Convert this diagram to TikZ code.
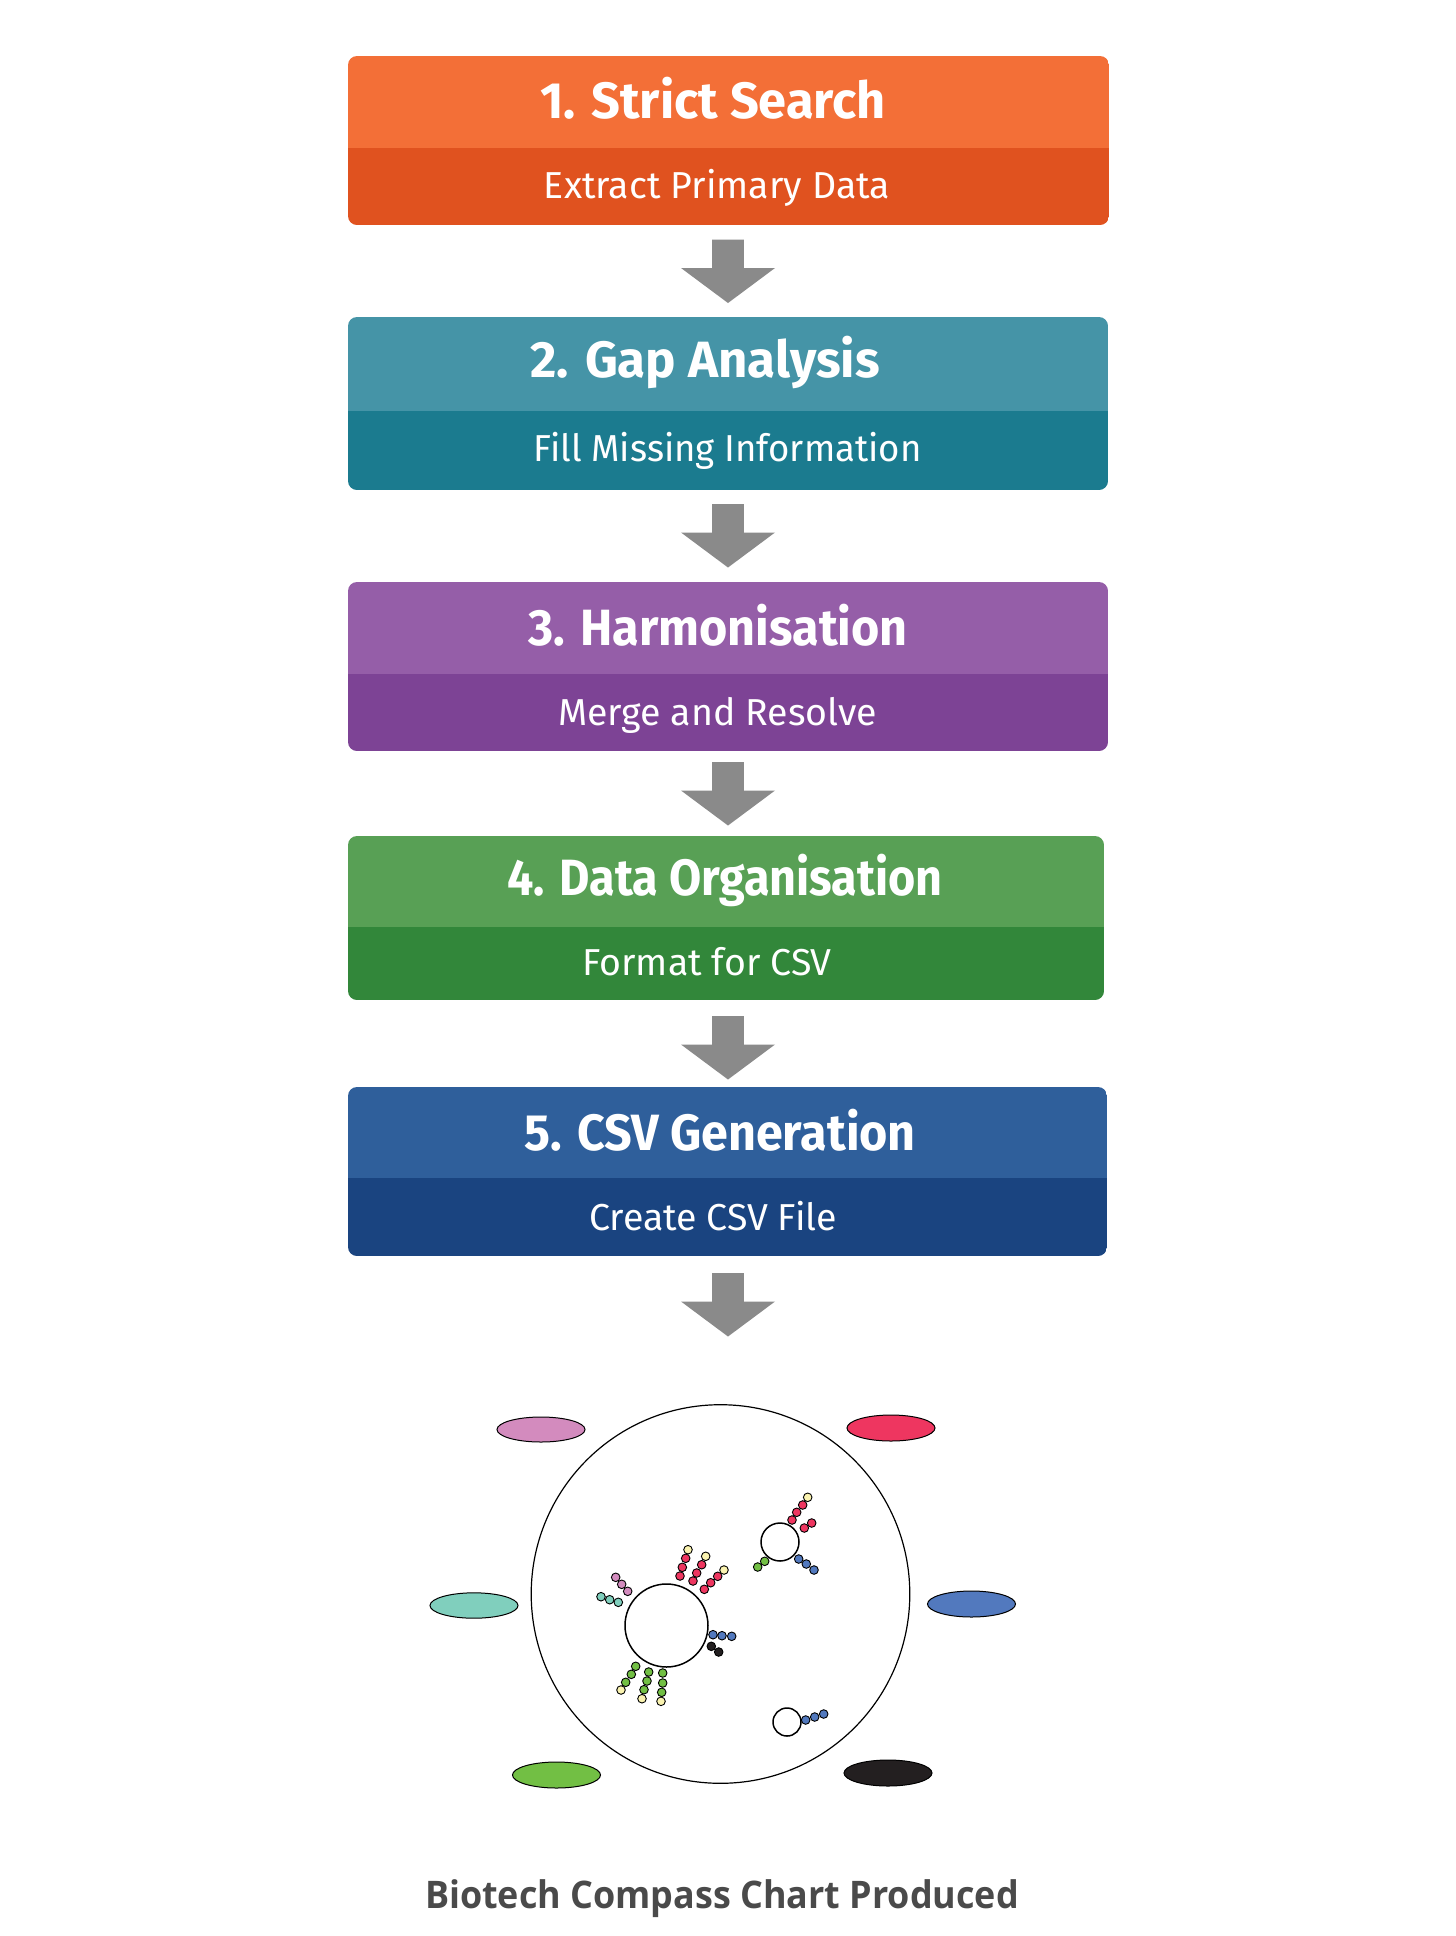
\documentclass[tikz,border=0pt]{standalone}
\usepackage{fontspec}
\setmainfont{Fira Sans}
\newfontfamily\capfont{Open Sans}
\usetikzlibrary{fit}
\definecolor{oTop}{HTML}{F36F37}\definecolor{oBot}{HTML}{E0521F}
\definecolor{tTop}{HTML}{4594A7}\definecolor{tBot}{HTML}{1B7B8F}
\definecolor{pTop}{HTML}{955EA8}\definecolor{pBot}{HTML}{7D4395}
\definecolor{gTop}{HTML}{58A055}\definecolor{gBot}{HTML}{32873A}
\definecolor{bTop}{HTML}{2F5F9B}\definecolor{bBot}{HTML}{1A4480}
\definecolor{arrowgray}{HTML}{8A8A8A}
\definecolor{capgray}{HTML}{4A4A4A}
\definecolor{cpink}{HTML}{D38BBE}
\definecolor{cred}{HTML}{EE3660}
\definecolor{cteal}{HTML}{80CFBD}
\definecolor{cblue}{HTML}{5279BE}
\definecolor{cgreen}{HTML}{72BF44}
\definecolor{cblack}{HTML}{231F20}
\definecolor{cyellow}{HTML}{FAF3B0}
\tikzset{
  titletext/.style={text=white, inner sep=0, anchor=base, font=\bfseries\fontsize{51}{54}\selectfont},
  subtext/.style={text=white, inner sep=0, anchor=base, font=\fontsize{37.5}{41}\selectfont},
  ell/.style={draw=black, line width=1},
  dotline/.style={draw=black, line width=0.9},
}
% name, x1, y1, x2, ydiv, y2, topcolour, bottomcolour
\newcommand\panelbox[8]{%
  \begin{scope}
    \clip[rounded corners=9] (#2,#3) rectangle (#4,#6);
    \fill[#7] (#2,#3) rectangle (#4,#5);
    \fill[#8] (#2,#5) rectangle (#4,#6);
  \end{scope}
  \node[fit={(#2,#3) (#4,#6)}, inner sep=0, name=#1] {};
}
% x centre, y top
\newcommand\blockarrow[2]{%
  \fill[arrowgray] (#1-15.8,#2) -- (#1+15.8,#2) -- (#1+15.8,#2+28.5) -- (#1+47,#2+28.5)
    -- (#1,#2+63.5) -- (#1-47,#2+28.5) -- (#1-15.8,#2+28.5) -- cycle;
}
\newcommand\dotc[3]{\filldraw[fill=#1, dotline] (#2,#3) circle (4.3);}
\newcommand\sq[2]{\scalebox{#1}[1]{#2}}
\begin{document}
\begin{tikzpicture}[x=1pt,y=-1pt]
\useasboundingbox (0,0) rectangle (1456,1936);
\fill[white] (0,0) rectangle (1456,1936);

\panelbox{b1}{348}{56}{1109}{148}{225}{oTop}{oBot}
\node[titletext] (t1) at (713,118) {\sq{0.99}{1. Strict Search}};
\node[subtext] (s1) at (717,198) {Extract Primary Data};

\panelbox{b2}{348}{317}{1108}{411}{490}{tTop}{tBot}
\node[titletext] (t2) at (705,377) {2. Gap Analysis};
\node[subtext] (s2) at (727.5,461.5) {\sq{0.975}{Fill Missing Information}};

\panelbox{b3}{348}{582}{1108}{674}{751}{pTop}{pBot}
\node[titletext] (t3) at (718,645) {\sq{0.95}{3. Harmonisation}};
\node[subtext] (s3) at (717.5,725) {Merge and Resolve};

\panelbox{b4}{348}{836}{1104}{927}{1000}{gTop}{gBot}
\node[titletext] (t4) at (725,895) {\sq{0.915}{4. Data Organisation}};
\node[subtext] (s4) at (707,975) {Format for CSV};

\panelbox{b5}{348}{1087}{1107}{1178}{1256}{bTop}{bBot}
\node[titletext] (t5) at (720,1150.5) {\sq{0.95}{5. CSV Generation}};
\node[subtext] (s5) at (713,1230) {Create CSV File};

\blockarrow{728}{239.5}
\blockarrow{728}{504}
\blockarrow{728}{762}
\blockarrow{728}{1016}
\blockarrow{728}{1273}

% compass chart
\draw[line width=1.2] (720.5,1594) circle (189.3);
\draw[line width=1.5] (666.5,1625.5) circle (41.5);
\draw[line width=1.5] (780,1542) circle (19);
\draw[line width=1.5] (787,1722) circle (14);

\filldraw[fill=cpink, ell] (541,1429.5) ellipse [x radius=44, y radius=12.5];
\filldraw[fill=cred, ell] (891,1428) ellipse [x radius=44, y radius=13];
\filldraw[fill=cteal, ell] (474,1605.5) ellipse [x radius=44, y radius=12.7];
\filldraw[fill=cblue, ell] (971.5,1604) ellipse [x radius=44, y radius=13];
\filldraw[fill=cgreen, ell] (556.5,1775) ellipse [x radius=44, y radius=13];
\filldraw[fill=cblack, ell] (888,1773) ellipse [x radius=44, y radius=13];

% large inner circle clusters
\dotc{cpink}{615.7}{1577.3}\dotc{cpink}{621.7}{1584.3}\dotc{cpink}{627.7}{1591.3}
\dotc{cteal}{601}{1596.7}\dotc{cteal}{609.7}{1599.7}\dotc{cteal}{618.3}{1602.3}
\dotc{cyellow}{688}{1549.7}\dotc{cred}{685.7}{1558.3}\dotc{cred}{682.3}{1567.3}\dotc{cred}{680}{1576}
\dotc{cyellow}{705.7}{1556.3}\dotc{cred}{701.7}{1564.7}\dotc{cred}{696.7}{1573}\dotc{cred}{693}{1581}
\dotc{cyellow}{724}{1570}\dotc{cred}{717.7}{1576.3}\dotc{cred}{710.7}{1582.7}\dotc{cred}{704.3}{1589.3}
\dotc{cblue}{713}{1634.7}\dotc{cblue}{722}{1635.7}\dotc{cblue}{731.7}{1636.3}
\dotc{cblack}{711.3}{1646.3}\dotc{cblack}{718.7}{1652}
\dotc{cgreen}{635.7}{1666.3}\dotc{cgreen}{631.3}{1674.3}\dotc{cgreen}{625.7}{1682.3}\dotc{cyellow}{621}{1690}
\dotc{cgreen}{648.7}{1672}\dotc{cgreen}{647}{1681}\dotc{cgreen}{644}{1689.7}\dotc{cyellow}{642}{1698.7}
\dotc{cgreen}{662.7}{1673}\dotc{cgreen}{662.7}{1683}\dotc{cgreen}{661.7}{1692.3}\dotc{cyellow}{661}{1701.3}

% small top-right circle clusters
\dotc{cred}{792}{1520}\dotc{cred}{796.7}{1512.3}\dotc{cred}{802.7}{1505}\dotc{cyellow}{807.7}{1497.3}
\dotc{cred}{804.3}{1528}\dotc{cred}{811.7}{1523}
\dotc{cgreen}{757.7}{1567}\dotc{cgreen}{764.7}{1561.3}
\dotc{cblue}{798.7}{1559}\dotc{cblue}{806.3}{1564}\dotc{cblue}{814}{1570}

% small bottom circle cluster
\dotc{cblue}{805.7}{1720}\dotc{cblue}{814.7}{1717}\dotc{cblue}{823.7}{1714}

\node[text=capgray, inner sep=0, font=\capfont\bfseries\fontsize{38}{42}\selectfont] (cap) at (722,1898.5) {\sq{0.945}{Biotech Compass Chart Produced}};
\end{tikzpicture}
\end{document}
